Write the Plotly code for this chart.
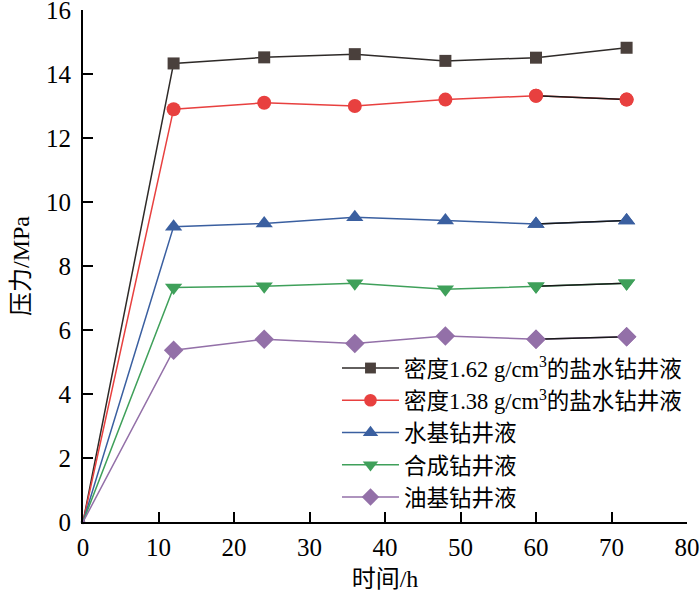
import plotly.graph_objects as go

# --- データ ---
time_h = [0, 12, 24, 36, 48, 60, 72]
brine_162 = [0, 14.33, 14.52, 14.62, 14.41, 14.51, 14.82]
brine_138 = [0, 12.9, 13.1, 13.0, 13.2, 13.32, 13.2]
water_based = [0, 9.23, 9.33, 9.52, 9.42, 9.31, 9.42]
synthetic = [0, 7.33, 7.37, 7.46, 7.27, 7.37, 7.46]
oil_based = [0, 5.37, 5.71, 5.58, 5.81, 5.71, 5.79]

x_ticks = [0, 10, 20, 30, 40, 50, 60, 70, 80]
y_ticks = [0, 2, 4, 6, 8, 10, 12, 14, 16]

names = [
    "密度1.62 g/cm<sup>3</sup>的盐水钻井液",
    "密度1.38 g/cm<sup>3</sup>的盐水钻井液",
    "水基钻井液",
    "合成钻井液",
    "油基钻井液",
]
series = [brine_162, brine_138, water_based, synthetic, oil_based]
line_colors = ["#2e2a28", "#e8403f", "#3a5fa0", "#3fa05a", "#9370a8"]
marker_colors = ["#4a403c", "#e8403f", "#3a5fa0", "#3fa05a", "#9370a8"]
symbols = ["square", "circle", "triangle-up", "triangle-down", "diamond"]
sizes = [12, 14, 15, 15, 15]

FONT = "Liberation Serif, Noto Sans CJK SC"

fig = go.Figure()

for name, ys, lc, mc, sym, sz in zip(names, series, line_colors, marker_colors, symbols, sizes):
    msize = [4] + [sz] * (len(ys) - 1)
    fig.add_trace(
        go.Scatter(
            x=time_h,
            y=ys,
            mode="lines+markers",
            name=name,
            line={"color": lc, "width": 1.5},
            marker={"symbol": sym, "size": msize, "color": mc, "opacity": 1, "line": {"width": 0}},
            cliponaxis=False,
        )
    )

# 最後の区間は黒線で描かれている
for ys, sym, mc, sz in zip(series[1:], symbols[1:], marker_colors[1:], sizes[1:]):
    fig.add_trace(
        go.Scatter(
            x=time_h[-2:],
            y=ys[-2:],
            mode="lines+markers",
            line={"color": "#1a1a1a", "width": 1.5},
            marker={"symbol": sym, "size": sz, "color": mc, "opacity": 1, "line": {"width": 0}},
            showlegend=False,
            hoverinfo="skip",
            cliponaxis=False,
        )
    )

axis_common = dict(
    showline=True,
    linecolor="black",
    linewidth=2,
    ticks="inside",
    ticklen=10,
    tickwidth=2,
    tickcolor="black",
    showgrid=False,
    zeroline=False,
    mirror=False,
    automargin=False,
    ticklabeloverflow="allow",
    tickfont={"family": FONT, "size": 25, "color": "black"},
)

fig.update_layout(
    autosize=False,
    width=700,
    height=601,
    paper_bgcolor="white",
    plot_bgcolor="white",
    margin={"l": 83, "r": 13, "t": 10, "b": 79},
    font={"family": FONT, "color": "black"},
    xaxis=dict(
        axis_common,
        range=[0, 80],
        tickvals=x_ticks,
        ticklabelstandoff=2,
        title={"text": "时间/h", "font": {"family": FONT, "size": 24}, "standoff": 10},
    ),
    yaxis=dict(
        axis_common,
        range=[0, 16],
        tickvals=y_ticks,
        ticklabelstandoff=5,
        title={"text": "压力/MPa", "font": {"family": FONT, "size": 24}, "standoff": 10},
    ),
    legend=dict(
        x=0.4205,
        y=0.342,
        xanchor="left",
        yanchor="top",
        bgcolor="rgba(0,0,0,0)",
        font={"family": FONT, "size": 22.5, "color": "black"},
        tracegroupgap=0,
        itemwidth=57,
    ),
    showlegend=True,
)

# ページ本体の余白とスクロールバーをなくす
fig.write_html(
    "out.html",
    config={"displayModeBar": False, "responsive": False},
    post_script="document.body.style.margin = '0'; document.body.style.overflow = 'hidden';",
)
